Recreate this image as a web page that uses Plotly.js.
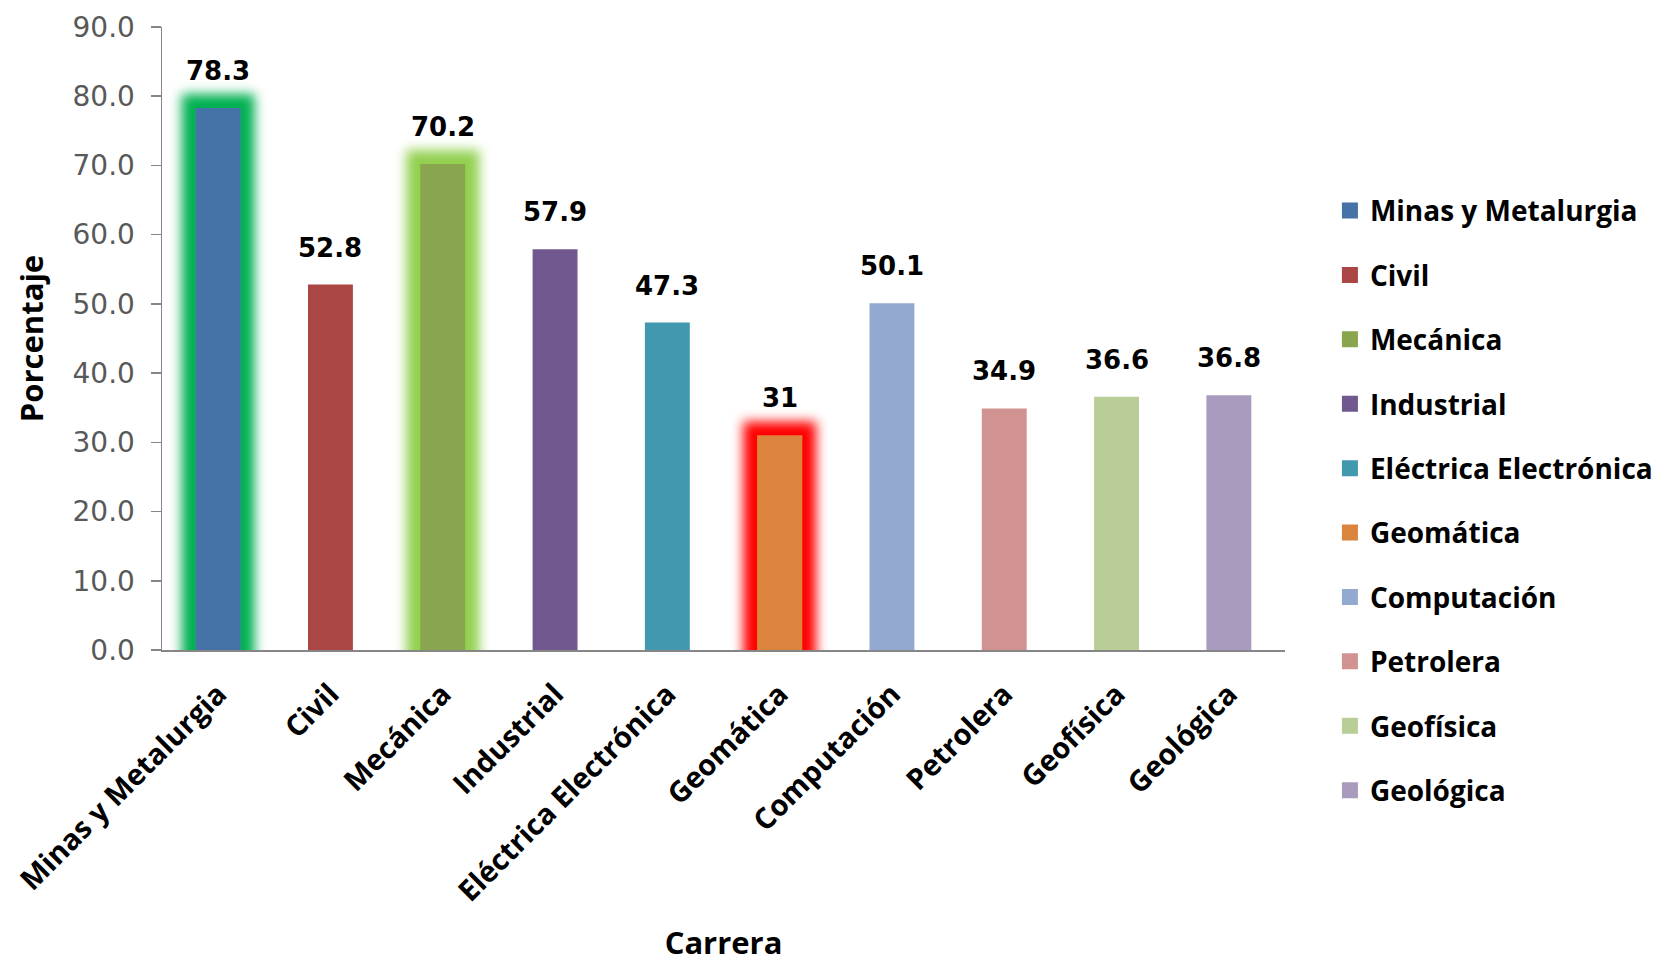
<!DOCTYPE html>
<html><head><meta charset="utf-8">
<script src="https://cdn.plot.ly/plotly-3.0.1.min.js"></script>
<style>html,body{margin:0;padding:0;background:#fff}#chart{width:1673px;height:963px}</style>
</head><body><div id="chart"></div>
<script>
const categories = ['Minas y Metalurgia','Civil','Mecánica','Industrial','Eléctrica Electrónica','Geomática','Computación','Petrolera','Geofísica','Geológica'];
const values = [78.3, 52.8, 70.2, 57.9, 47.3, 31, 50.1, 34.9, 36.6, 36.8];
const labels = values.map(v => String(v));
const colors = ['#4572A7','#AA4643','#89A54E','#71588F','#4198AF','#DB843D','#93A9CF','#D19392','#B9CD96','#A99BBD'];
const glowColors = {0:'#00B050', 2:'#92D050', 5:'#FF0000'};

const boldFont = {family:'Open Sans', weight:700, color:'#000'};

const traces = categories.map((c,i) => ({
  type:'bar', x:[c], y:[values[i]], name:c, legendgroup:c,
  marker:{color:colors[i]}, width:0.4, hovertemplate:'%{x}: %{y}<extra></extra>'
}));

const annotations = categories.map((c,i) => ({
  x:c, y:values[i], xref:'x', yref:'y', text:labels[i], showarrow:false,
  yanchor:'middle', yshift:37,
  font:{family:'DejaVu Sans', weight:700, size:26, color:'#000'}
}));

const layout = {
  width:1673, height:963,
  margin:{l:162, r:388, t:27, b:313, autoexpand:false},
  barmode:'overlay',
  paper_bgcolor:'#fff', plot_bgcolor:'#fff',
  showlegend:true,
  legend:{x:1.04, y:0.745, xanchor:'left', yanchor:'top', traceorder:'grouped', tracegroupgap:25,
          maxheight:900,
          font:Object.assign({size:28}, boldFont), bgcolor:'rgba(0,0,0,0)'},
  xaxis:{type:'category', range:[-0.5, 9.5], showline:true, linecolor:'#868686', linewidth:1.5,
         ticks:'', tickangle:-45, showgrid:false, zeroline:false, ticklabelstandoff:14,
         tickfont:Object.assign({size:29}, boldFont),
         title:{text:'Carrera', font:Object.assign({size:31}, boldFont), standoff:36}},
  yaxis:{range:[0, 90], tick0:0, dtick:10, tickformat:'.1f', showline:true, linecolor:'#868686', linewidth:1.5,
         ticks:'outside', ticklen:10, tickcolor:'#868686', tickwidth:1.5, showgrid:false, zeroline:false,
         ticklabelstandoff:10,
         tickfont:{family:'DejaVu Sans', size:28, color:'#595959'},
         title:{text:'Porcentaje', font:Object.assign({size:31}, boldFont), standoff:19}},
  annotations:annotations
};

Plotly.newPlot('chart', traces, layout, {displayModeBar:false, staticPlot:true}).then(gd => {
  const svg = gd.querySelector('svg.main-svg');
  const NS = 'http://www.w3.org/2000/svg';
  let defs = svg.querySelector('defs');
  if (!defs) { defs = document.createElementNS(NS,'defs'); svg.insertBefore(defs, svg.firstChild); }
  const barTraces = gd.querySelectorAll('.barlayer .trace');
  Object.keys(glowColors).forEach(k => {
    const id = 'glow' + k;
    const f = document.createElementNS(NS,'filter');
    f.setAttribute('id', id);
    f.setAttribute('x','-1'); f.setAttribute('y','-0.5'); f.setAttribute('width','3'); f.setAttribute('height','2');
    f.innerHTML =
      '<feMorphology in="SourceAlpha" operator="dilate" radius="14" result="d"/>' +
      '<feGaussianBlur in="d" stdDeviation="6" result="b"/>' +
      '<feFlood flood-color="' + glowColors[k] + '" result="c"/>' +
      '<feComposite in="c" in2="b" operator="in" result="g"/>' +
      '<feMerge><feMergeNode in="g"/><feMergeNode in="SourceGraphic"/></feMerge>';
    defs.appendChild(f);
    const p = barTraces[+k] && barTraces[+k].querySelector('path');
    if (p) p.setAttribute('filter', 'url(#' + id + ')');
  });
  gd.querySelectorAll('.legend .legendpoints path').forEach(p => p.setAttribute('d','M8,8H-8V-8H8Z'));
});
</script>
</body></html>
